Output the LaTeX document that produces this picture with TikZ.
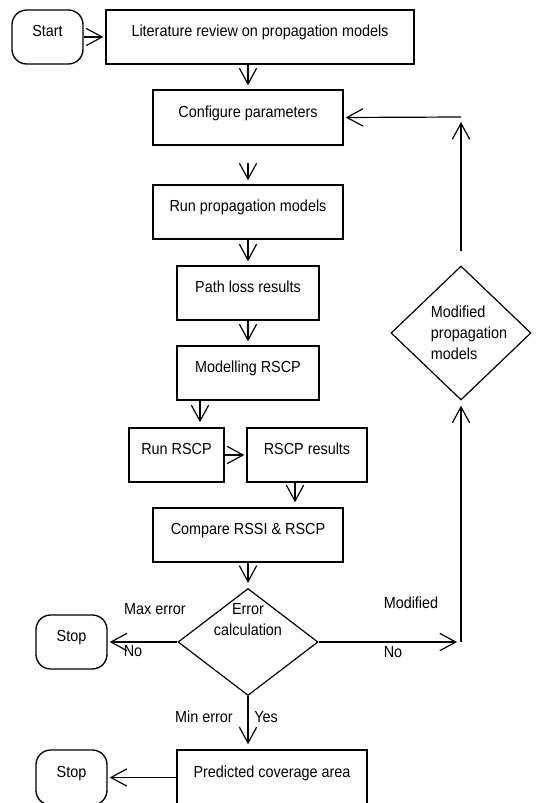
\documentclass[tikz,border=0pt]{standalone}
\usepackage{fontspec}
\setmainfont{Liberation Sans}[FakeStretch=0.9]
\usetikzlibrary{shapes.geometric,arrows.meta}
\tikzset{
	every node/.style={font=\fontsize{12}{15.75}\selectfont},
	box/.style={draw,line width=1pt,minimum height=40.5pt,text height=8.6pt,text depth=9pt,inner sep=0pt},
	term/.style={box,rounded corners=11pt,minimum width=53.25pt},
	dec/.style={draw,diamond,line width=0.9pt,inner sep=0pt},
	arr/.style={-{Straight Barb[length=12pt,width=13pt]},line width=0.9pt},
}
\begin{document}
\begin{tikzpicture}[x=0.75pt,y=-0.75pt]
	\useasboundingbox (0,0) rectangle (540,803);
	\clip (0,0) rectangle (540,803);
	\node [term] (start) at (47.5,37) {Start};
	\node [box,minimum width=231pt] (lit) at (260,37) {Literature review on propagation models};
	\node [box,minimum width=142.5pt,minimum height=41.25pt] (config) at (248,117.5) {Configure parameters};
	\node [box,minimum width=142.5pt] (run) at (248,212) {Run propagation models};
	\node [box,minimum width=106.5pt] (path) at (248,293) {Path loss results};
	\node [box,minimum width=106.5pt] (model) at (248,373) {Modelling RSCP};
	\node [box,minimum width=71.25pt] (runrscp) at (176.5,455) {Run RSCP};
	\node [box,minimum width=90pt] (results) at (307,455) {RSCP results};
	\node [box,minimum width=142.5pt] (compare) at (248,535) {Compare RSSI \& RSCP};
	\node [dec,minimum width=105pt,minimum height=80.25pt,
		label={[align=center,yshift=16.5pt]center:Error\\calculation}] (err) at (248,642) {};
	\node [term] (stop1) at (71.5,642) {Stop};
	\node [dec,minimum width=105pt,minimum height=100.5pt,align=left,
		label={[align=left,xshift=6pt]center:Modified\\propagation\\models}] (mod) at (461,333) {};
	\node [box,minimum width=142.5pt,minimum height=41.25pt] (pred) at (272,777.5) {Predicted coverage area};
	\node [term,minimum height=41.25pt] (stop2) at (71.5,777.5) {Stop};
	% branch labels
	\node (maxerr) at (155,609) {Max error};
	\node (noleft) at (133,651) {No};
	\node (modlbl) at (411,603) {Modified};
	\node (noright) at (393,652) {No};
	\node (minerr) at (204,717) {Min error};
	\node (yes) at (266,717) {Yes};
	% corners of the loop back
	\node [coordinate] (m1) at (200,400) {};
	\node [coordinate] (r1) at (295,482) {};
	\node [coordinate] (ra) at (457,642) {};
	\node [coordinate] (rb) at (461,642) {};
	\node [coordinate] (rc) at (461,122) {};
	\node [coordinate] (rd) at (461,117) {};
	\draw [arr,shorten >=1.5pt] (start) -- (lit);
	\draw [arr,shorten >=3pt] (config.north |- lit.south) -- (config.north);
	\draw [arr,shorten <=12.75pt,shorten >=3pt] (config) -- (run);
	\draw [arr,shorten >=3pt] (run) -- (path);
	\draw [arr,shorten >=3pt] (path) -- (model);
	\draw [arr,shorten >=3.75pt] (m1) -- (m1 |- runrscp.north);
	\draw [arr,shorten >=1.5pt] (runrscp) -- (results);
	\draw [arr,shorten >=3.75pt] (r1) -- (r1 |- compare.north);
	\draw [arr,shorten >=3.75pt] (compare) -- (err);
	\draw [arr,shorten >=1.5pt] (err) -- (stop1);
	\draw [arr] (err) -- (ra);
	\draw [arr,shorten >=3.75pt] (rb) -- (mod);
	\draw [arr,shorten <=10.5pt] (mod) -- (rc);
	\draw [arr,shorten >=1.5pt] (rd) -- (config.east);
	\draw [arr,shorten >=3.75pt] (err.south) -- (err.south |- pred.north);
	\draw [arr,shorten >=1.5pt] (pred) -- (stop2);
\end{tikzpicture}
\end{document}
